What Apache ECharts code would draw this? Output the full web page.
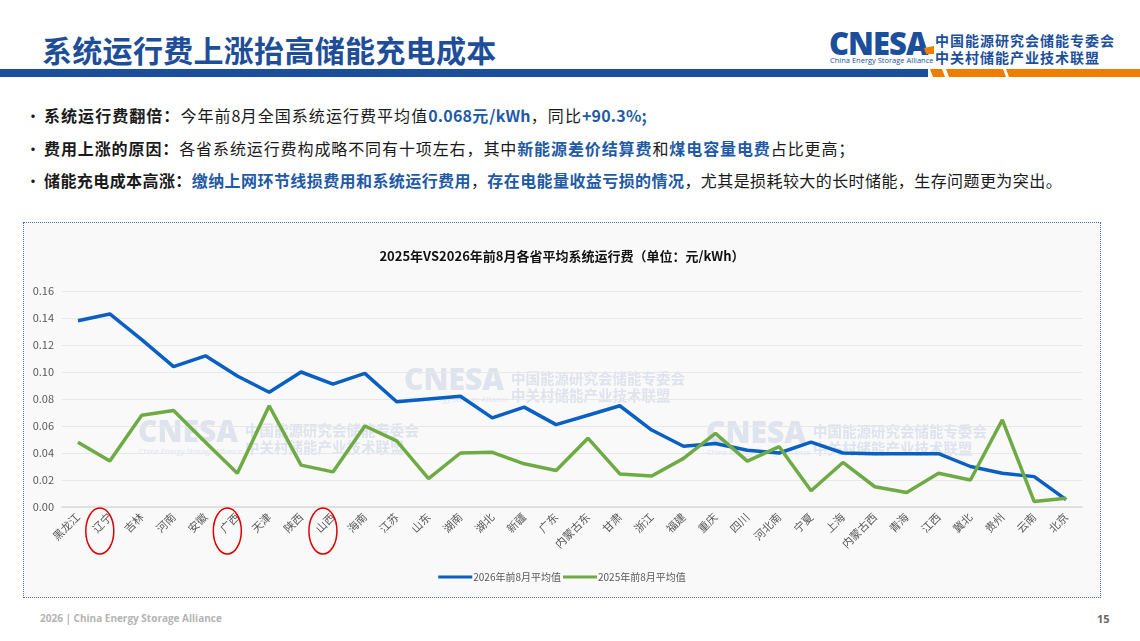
<!DOCTYPE html>
<html lang="zh">
<head>
    <meta charset="UTF-8">
    <title>系统运行费上涨抬高储能充电成本</title>
    <style>
        body { margin: 0; width: 1140px; height: 641px; position: relative; background: #fff; overflow: hidden;
               font-family: "Noto Sans CJK SC", "Noto Sans", sans-serif; }
        .title { position: absolute; left: 42px; top: 27px; font-size: 30px; font-weight: bold; color: #1f4e99; letter-spacing: 0.3px; }
        .bar { position: absolute; left: 0; top: 69px; }
        .logo-en { position: absolute; left: 829px; top: 22px; font-family: "Open Sans", sans-serif; font-size: 31px; font-weight: 800; color: #1b4f9c; letter-spacing: -1px; }
        .logo-sub { position: absolute; left: 830px; top: 55px; font-size: 7.5px; color: #1b4f9c; font-family: "Open Sans", sans-serif; }
        .logo-cn { position: absolute; left: 935px; font-size: 14px; font-weight: bold; color: #1b4f9c; letter-spacing: 1px; }
        .bullets { position: absolute; left: 25px; top: 103px; font-size: 16px; color: #1a1a1a; }
        .bullets div { height: 32.5px; line-height: 24px; white-space: nowrap; }
        .bullets b { font-weight: bold; }
        .hl { color: #1f5aa6; font-weight: bold; }
        .en { letter-spacing: 0.2px; }
        .dot { display: inline-block; width: 19px; letter-spacing: 0; }
        #main { position: absolute; left: 23px; top: 222px; width: 1076px; height: 374px;
                border: 1px dotted #3f6fb8; background: #f9f9f9; }
        .foot { position: absolute; left: 40px; top: 611px; font-size: 10px; color: #b4b4b4; font-weight: bold; font-family: "Open Sans", sans-serif; }
        .page { position: absolute; left: 1097px; top: 611px; font-size: 11px; color: #666; font-weight: bold; font-family: "Open Sans", sans-serif; }
    </style>
</head>
<body>
<div class="title">系统运行费上涨抬高储能充电成本</div>
<svg class="bar" width="1140" height="9">
    <rect x="0" y="0" width="928" height="8" fill="#1b4f9c"></rect>
    <polygon points="930,0 942,0 945,8 933,8" fill="#ef7d00"></polygon>
    <polygon points="946,0 1003,0 1006,8 949,8" fill="#ef7d00"></polygon>
    <polygon points="1006,0 1140,0 1140,8 1009,8" fill="#ef7d00"></polygon>
</svg>
<div class="logo-en">CNESA</div>
<svg style="position:absolute;left:924px;top:46px" width="10" height="8">
    <polygon points="0,2 10,0 10,8 2,8" fill="#ef7d00"></polygon>
</svg>
<div class="logo-sub">China Energy Storage Alliance</div>
<div class="logo-cn" style="top:30px">中国能源研究会储能专委会</div>
<div class="logo-cn" style="top:47px">中关村储能产业技术联盟</div>

<div class="bullets">
    <div style="letter-spacing:1.05px"><span class="dot">•</span><b>系统运行费翻倍：</b>今年前<span class="en">8</span>月全国系统运行费平均值<span class="hl"><span class="en">0.068</span>元<span class="en">/kWh</span></span>，同比<span class="hl en">+90.3%;</span></div>
    <div style="letter-spacing:0.9px"><span class="dot">•</span><b>费用上涨的原因：</b>各省系统运行费构成略不同有十项左右，其中<span class="hl">新能源差价结算费</span>和<span class="hl">煤电容量电费</span>占比更高；</div>
    <div style="letter-spacing:0.42px"><span class="dot">•</span><b>储能充电成本高涨：</b><span class="hl">缴纳上网环节线损费用和系统运行费用</span>，<span class="hl">存在电能量收益亏损的情况</span>，尤其是损耗较大的长时储能，生存问题更为突出。</div>
</div>

<div id="main"></div>
<div class="foot">2026 | China Energy Storage Alliance</div>
<div class="page">15</div>

<script src="https://cdn.jsdelivr.net/npm/echarts@6/dist/echarts.min.js"></script>
<script>
    // 省份（横坐标）
    var provinces = ['黑龙江', '辽宁', '吉林', '河南', '安徽', '广西', '天津', '陕西', '山西', '海南',
        '江苏', '山东', '湖南', '湖北', '新疆', '广东', '内蒙古东', '甘肃', '浙江', '福建',
        '重庆', '四川', '河北南', '宁夏', '上海', '内蒙古西', '青海', '江西', '冀北', '贵州',
        '云南', '北京'];
    // 2026年前8月平均值
    var avg2026 = [0.138, 0.143, 0.124, 0.104, 0.112, 0.097, 0.085, 0.100, 0.091, 0.099,
        0.078, 0.080, 0.082, 0.066, 0.074, 0.061, 0.068, 0.075, 0.057, 0.045,
        0.047, 0.042, 0.040, 0.048, 0.040, 0.0395, 0.0395, 0.0395, 0.030, 0.025,
        0.0225, 0.0055];
    // 2025年前8月平均值
    var avg2025 = [0.048, 0.034, 0.068, 0.0715, 0.048, 0.025, 0.075, 0.031, 0.026, 0.060,
        0.049, 0.021, 0.040, 0.0405, 0.032, 0.027, 0.051, 0.0245, 0.023, 0.036,
        0.0545, 0.034, 0.0447, 0.012, 0.033, 0.015, 0.0107, 0.025, 0.020, 0.0645,
        0.004, 0.0064];
    // 红圈标注的省份
    var circled = ['辽宁', '广西', '山西'];

    var myChart = echarts.init(document.getElementById('main'));

    var wmColor = 'rgba(188,200,222,0.45)';
    function watermark(x, y) {
        return {
            type: 'group', left: x, top: y, z: 0, silent: true,
            children: [
                {type: 'text', left: 0, top: -2, style: {text: 'CNESA', fill: wmColor, font: '800 30px "Open Sans"'}},
                {type: 'text', left: 1, top: 28, style: {text: 'China Energy Storage Alliance', fill: wmColor, font: '7.5px "Open Sans"'}},
                {type: 'text', left: 107, top: 3, style: {text: '中国能源研究会储能专委会', fill: wmColor, font: 'bold 14.5px "Noto Sans CJK SC"'}},
                {type: 'text', left: 107, top: 20, style: {text: '中关村储能产业技术联盟', fill: wmColor, font: 'bold 14.5px "Noto Sans CJK SC"'}}
            ]
        };
    }

    var option = {
        animation: false,
        textStyle: {fontFamily: '"Noto Sans CJK SC", sans-serif'},
        title: {
            text: '2025年VS2026年前8月各省平均系统运行费（单位：元/kWh）',
            left: 'center',
            top: 22,
            textStyle: {fontSize: 13, fontWeight: 'bold', color: '#111'}
        },
        legend: {
            data: ['2026年前8月平均值', '2025年前8月平均值'],
            bottom: 10,
            left: 'center',
            itemWidth: 34,
            itemHeight: 3,
            itemGap: 2,
            icon: 'rect',
            textStyle: {fontSize: 10, color: '#595959', padding: [0, 0, 0, -4]}
        },
        grid: {left: 38, right: 18, top: 68, bottom: 90},
        xAxis: {
            type: 'category',
            data: provinces,
            boundaryGap: true,
            axisLine: {lineStyle: {color: '#d9d9d9', width: 1.5}},
            axisTick: {show: false},
            axisLabel: {rotate: 45, color: '#595959', fontSize: 11, interval: 0, margin: 8}
        },
        yAxis: {
            type: 'value',
            min: 0,
            max: 0.16,
            interval: 0.02,
            axisLine: {show: false},
            axisTick: {show: false},
            splitLine: {lineStyle: {color: '#e8e8e8'}},
            axisLabel: {color: '#595959', fontSize: 11, formatter: function (v) { return v.toFixed(2); }}
        },
        graphic: [watermark(114, 195), watermark(380, 143), watermark(682, 196)],
        series: [
            {
                name: '2026年前8月平均值',
                type: 'line',
                data: avg2026,
                symbol: 'none',
                z: 3,
                itemStyle: {color: '#0a5fc2'},
                lineStyle: {color: '#0a5fc2', width: 3.5}
            },
            {
                name: '2025年前8月平均值',
                type: 'line',
                data: avg2025,
                symbol: 'none',
                z: 3,
                itemStyle: {color: '#6fab45'},
                lineStyle: {color: '#6fab45', width: 3.5}
            }
        ]
    };
    myChart.setOption(option);

    // 红圈：按类目位置放置（旋转标签在刻度左侧）
    var rings = circled.map(function (p) {
        var cx = myChart.convertToPixel({xAxisIndex: 0}, p) - 10;
        return {
            type: 'ellipse', z: 10, silent: true,
            shape: {cx: cx, cy: 308, rx: 14, ry: 23},
            style: {fill: 'none', stroke: '#e00000', lineWidth: 1.5}
        };
    });
    myChart.setOption({graphic: option.graphic.concat(rings)});
</script>
</body>
</html>
